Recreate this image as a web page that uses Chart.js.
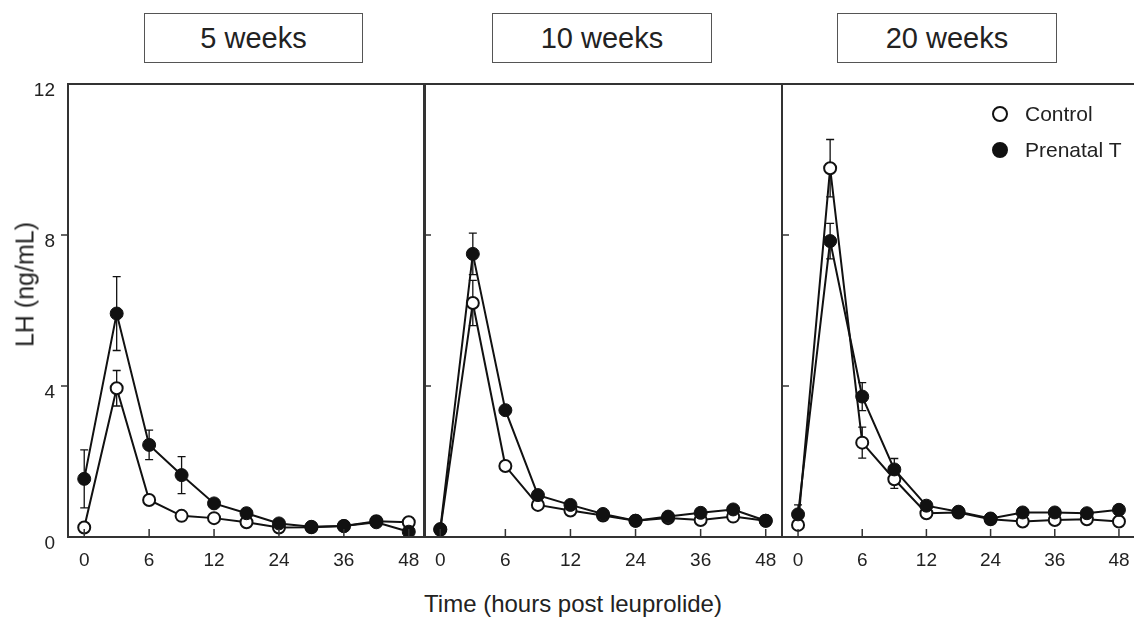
<!DOCTYPE html>
<html>
<head>
<meta charset="utf-8">
<script src="https://cdn.jsdelivr.net/npm/chart.js@4/dist/chart.umd.min.js"></script>
<style>
  html, body { margin: 0; padding: 0; background: #fff; overflow: hidden; }
  body { width: 1134px; height: 619px; position: relative; font-family: "Liberation Sans", Arial, sans-serif; color: #222; }
  canvas { position: absolute; }
  .tbox { position: absolute; top: 13px; height: 48px; border: 1.5px solid #555; font-size: 29px; line-height: 48px; text-align: center; }
  .xtitle { position: absolute; left: 373px; width: 400px; top: 590px; text-align: center; font-size: 24px; }
  .ytitle { position: absolute; left: -75px; top: 270px; width: 200px; text-align: center; font-size: 25px; transform: rotate(-90deg); }
  .leg { position: absolute; left: 992px; font-size: 21px; line-height: 24px; }
  .dot { position: absolute; left: 0; width: 12px; height: 12px; border: 2px solid #111; border-radius: 50%; }
  .leg span.t { position: absolute; left: 33px; top: 0; white-space: nowrap; }
</style>
</head>
<body>
<div class="tbox" style="left:144px;width:217px;">5 weeks</div>
<div class="tbox" style="left:492px;width:218px;">10 weeks</div>
<div class="tbox" style="left:837px;width:218px;">20 weeks</div>

<canvas id="p5"></canvas>
<canvas id="p10"></canvas>
<canvas id="p20"></canvas>

<div class="leg" style="top:102px;"><div class="dot" style="top:4px;background:#fff;"></div><span class="t">Control</span></div>
<div class="leg" style="top:138px;"><div class="dot" style="top:4px;background:#111;"></div><span class="t">Prenatal T</span></div>

<div class="xtitle">Time (hours post leuprolide)</div>
<div class="ytitle">LH (ng/mL)</div>

<script>
// ---- data ----
const timeLabels = ["0", "3", "6", "9", "12", "18", "24", "30", "36", "42", "48"];
const shownTicks = ["0", "6", "12", "24", "36", "48"];
const yTicks = [0, 4, 8, 12];
const seriesNames = ["Control", "Prenatal T"];

// 5 weeks
const ctrl5 = [0.25, 3.94, 0.98, 0.56, 0.50, 0.39, 0.25, 0.26, 0.29, 0.42, 0.39];
const prenT5 = [1.54, 5.92, 2.44, 1.64, 0.89, 0.63, 0.36, 0.27, 0.29, 0.39, 0.14];
const ctrl5Err = [null, 0.47, null, null, null, null, null, null, null, null, null];
const prenT5Err = [0.77, 0.98, 0.39, 0.49, null, null, null, null, null, null, null];

// 10 weeks
const ctrl10 = [0.19, 6.20, 1.88, 0.85, 0.70, 0.57, 0.43, 0.50, 0.45, 0.54, 0.43];
const prenT10 = [0.21, 7.50, 3.36, 1.11, 0.85, 0.61, 0.43, 0.54, 0.64, 0.73, 0.43];
const ctrl10Err = [null, 0.60, null, null, null, null, null, null, null, null, null];
const prenT10Err = [null, 0.55, null, null, null, null, null, null, null, null, null];

// 20 weeks
const ctrl20 = [0.32, 9.77, 2.50, 1.53, 0.63, 0.65, 0.47, 0.41, 0.45, 0.47, 0.41];
const prenT20 = [0.60, 7.84, 3.72, 1.79, 0.83, 0.67, 0.49, 0.65, 0.65, 0.63, 0.72];
const ctrl20Err = [null, 0.76, 0.41, 0.24, null, null, null, null, null, null, null];
const prenT20Err = [0.25, 0.47, 0.37, 0.29, null, null, null, null, null, null, null];

const INK = "#111";
const AXIS = "#333";

// frame + inward ticks + error bars
const panelPlugin = {
  id: "panelDeco",
  beforeDatasetsDraw(chart) {
    const ctx = chart.ctx;
    const x = chart.scales.x, y = chart.scales.y;
    ctx.save();
    ctx.strokeStyle = INK;
    ctx.lineWidth = 1.3;
    chart.data.datasets.forEach(ds => {
      (ds.err || []).forEach((e, i) => {
        if (e == null) return;
        const px = x.getPixelForValue(i);
        const top = y.getPixelForValue(ds.data[i] + e);
        const bot = y.getPixelForValue(ds.data[i] - e);
        ctx.beginPath();
        ctx.moveTo(px, top); ctx.lineTo(px, bot);
        ctx.moveTo(px - 4, top); ctx.lineTo(px + 4, top);
        ctx.moveTo(px - 4, bot); ctx.lineTo(px + 4, bot);
        ctx.stroke();
      });
    });
    ctx.restore();
  },
  afterDraw(chart) {
    const ctx = chart.ctx;
    const a = chart.chartArea;
    const x = chart.scales.x, y = chart.scales.y;
    const outY = chart.options.plugins.panelDeco.outwardY;
    ctx.save();
    ctx.strokeStyle = AXIS;
    ctx.lineWidth = 2;
    ctx.strokeRect(a.left, a.top, a.right - a.left, a.bottom - a.top);
    ctx.lineWidth = 1.5;
    ctx.beginPath();
    timeLabels.forEach((t, i) => {
      if (!shownTicks.includes(t)) return;
      const px = x.getPixelForValue(i);
      ctx.moveTo(px, a.bottom); ctx.lineTo(px, a.bottom - 8);
    });
    yTicks.slice(1, -1).forEach(v => {
      const py = y.getPixelForValue(v);
      ctx.moveTo(a.left, py); ctx.lineTo(outY ? a.left - 7 : a.left + 7, py);
    });
    ctx.stroke();
    ctx.restore();
  }
};

function drawPanel({ canvasId, plotLeft, plotRight, ctrl, prenT, ctrlErr, prenTErr, showY }) {
  const yw = showY ? plotLeft : 8;
  const canvasLeft = plotLeft - yw;
  const width = plotRight - canvasLeft + 4;
  const height = 510;
  const el = document.getElementById(canvasId);
  el.width = width; el.height = height;
  el.style.left = canvasLeft + "px";
  el.style.top = "74px";
  el.style.width = width + "px";
  el.style.height = height + "px";

  return new Chart(el, {
    type: "line",
    data: {
      labels: timeLabels,
      datasets: [
        {
          label: seriesNames[0],
          data: ctrl,
          err: ctrlErr,
          order: 2,
          borderColor: INK,
          borderWidth: 2,
          pointRadius: 6,
          pointBorderWidth: 2,
          pointBackgroundColor: "#fff",
          pointBorderColor: INK,
          tension: 0
        },
        {
          label: seriesNames[1],
          data: prenT,
          err: prenTErr,
          order: 1,
          borderColor: INK,
          borderWidth: 2,
          pointRadius: 6.5,
          pointBorderWidth: 1,
          pointBackgroundColor: INK,
          pointBorderColor: INK,
          tension: 0
        }
      ]
    },
    options: {
      responsive: false,
      animation: false,
      devicePixelRatio: 1,
      layout: { autoPadding: false, padding: { left: 0, right: 4, top: 10, bottom: 7 } },
      plugins: {
        legend: { display: false },
        tooltip: { enabled: false },
        panelDeco: { outwardY: showY }
      },
      scales: {
        x: {
          type: "category",
          offset: true,
          grid: { display: false, drawTicks: false },
          border: { display: false },
          afterFit: s => { s.height = 40; s.paddingLeft = 0; s.paddingRight = 0; },
          ticks: {
            autoSkip: false,
            maxRotation: 0,
            padding: 12,
            color: "#222",
            font: { family: "Liberation Sans", size: 19 },
            callback: (v, i) => shownTicks.includes(timeLabels[i]) ? timeLabels[i] : ""
          }
        },
        y: {
          min: 0,
          max: 12,
          grid: { display: false, drawTicks: false },
          border: { display: false },
          afterFit: s => { s.width = yw; s.paddingTop = 0; s.paddingBottom = 0; },
          afterBuildTicks: s => { s.ticks = yTicks.map(v => ({ value: v })); },
          ticks: {
            display: showY,
            padding: 13,
            labelOffset: 7,
            color: "#222",
            font: { family: "Liberation Sans", size: 19 }
          }
        }
      }
    },
    plugins: [panelPlugin]
  });
}

drawPanel({ canvasId: "p5", plotLeft: 68, plotRight: 425, ctrl: ctrl5, prenT: prenT5, ctrlErr: ctrl5Err, prenTErr: prenT5Err, showY: true });
drawPanel({ canvasId: "p10", plotLeft: 424, plotRight: 782, ctrl: ctrl10, prenT: prenT10, ctrlErr: ctrl10Err, prenTErr: prenT10Err, showY: false });
drawPanel({ canvasId: "p20", plotLeft: 782, plotRight: 1135, ctrl: ctrl20, prenT: prenT20, ctrlErr: ctrl20Err, prenTErr: prenT20Err, showY: false });
</script>
</body>
</html>
